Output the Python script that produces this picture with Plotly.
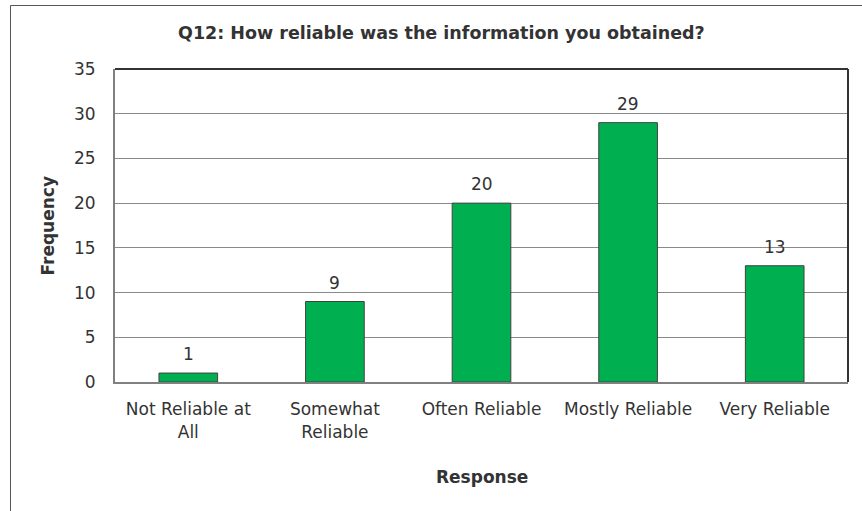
import plotly.graph_objects as go

# Survey responses and counts
categories = ["Not Reliable at<br>All", "Somewhat<br>Reliable", "Often Reliable",
              "Mostly Reliable", "Very Reliable"]
frequency = [1, 9, 20, 29, 13]
y_ticks = [0, 5, 10, 15, 20, 25, 30, 35]

W, H = 862, 511
L, R, T, B = 115, 14, 69, 129
pw, ph = W - L - R, H - T - B


def px_x(px):
    return (px - L) / pw


def px_y(py):
    return (H - B - py) / ph


tick_font = dict(family="DejaVu Sans, Tahoma, sans-serif", size=17, color="#333333")
bold_font = dict(family="DejaVu Sans, Tahoma, sans-serif", size=17, color="#333333")
title_font = dict(family="DejaVu Sans, Tahoma, sans-serif", size=17.5, color="#333333")

fig = go.Figure(
    go.Bar(
        x=categories,
        y=frequency,
        width=0.4,
        marker=dict(color="#00B050", line=dict(color="#404040", width=1)),
        hoverinfo="skip",
    )
)

# value labels above each bar
for c, v in zip(categories, frequency):
    fig.add_annotation(x=c, y=v, text=str(v), showarrow=False, yanchor="bottom",
                       yshift=7, font=tick_font)

fig.update_xaxes(
    showline=True, linecolor="#808080", linewidth=2,
    showgrid=False, ticks="", tickfont=tick_font, ticklabelstandoff=11,
)
fig.update_yaxes(
    range=[0, 35], tickvals=y_ticks, showline=True, linecolor="#808080", linewidth=2,
    showgrid=True, gridcolor="#8a8a8a", gridwidth=1, zeroline=False,
    ticks="", tickfont=tick_font, ticklabelstandoff=14,
)

# plot-area frame on top and right
fig.add_shape(type="line", xref="paper", yref="paper", x0=0, x1=1, y0=1, y1=1,
              line=dict(color="#333333", width=2))
fig.add_shape(type="line", xref="paper", yref="paper", x0=1, x1=1, y0=0, y1=1,
              line=dict(color="#333333", width=2))

# chart-area border
fig.add_shape(type="rect", xref="paper", yref="paper",
              x0=px_x(10.5), x1=px_x(W + 20), y0=px_y(H + 20), y1=px_y(5.5),
              line=dict(color="#555555", width=1), fillcolor="rgba(0,0,0,0)", layer="below")

fig.add_annotation(text="<b>Q12: How reliable was the information you obtained?</b>",
                   xref="paper", yref="paper", x=px_x(441), y=px_y(33),
                   xanchor="center", yanchor="middle", showarrow=False, font=title_font)
fig.add_annotation(text="<b>Response</b>", xref="paper", yref="paper",
                   x=0.5, y=px_y(477), xanchor="center", yanchor="middle",
                   showarrow=False, font=bold_font)
fig.add_annotation(text="<b>Frequency</b>", xref="paper", yref="paper",
                   x=px_x(47), y=0.5, xanchor="center", yanchor="middle",
                   textangle=-90, showarrow=False, font=bold_font)

fig.update_layout(
    width=W, height=H,
    margin=dict(l=L, r=R, t=T, b=B),
    paper_bgcolor="white", plot_bgcolor="white",
    showlegend=False,
)

fig.write_html("out.html")
